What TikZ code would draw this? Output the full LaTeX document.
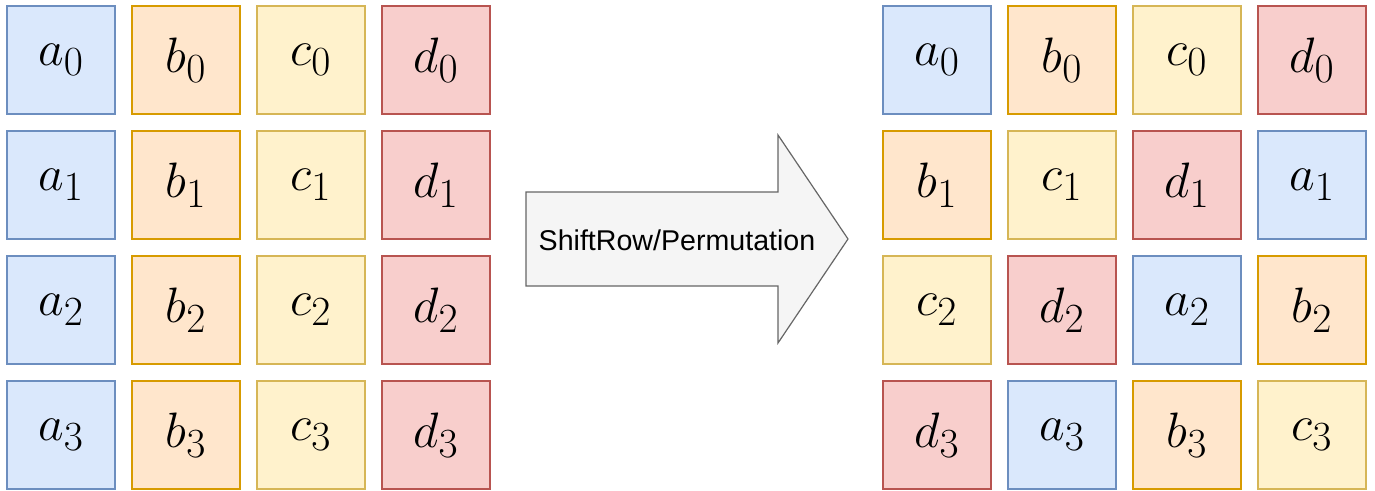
\documentclass[tikz,border=0pt]{standalone}
\usepackage{fontspec}
\newfontfamily\arialfont{Liberation Sans}
\definecolor{blueFill}{HTML}{DAE8FC}
\definecolor{blueLine}{HTML}{6C8EBF}
\definecolor{orangeFill}{HTML}{FFE6CC}
\definecolor{orangeLine}{HTML}{D79B00}
\definecolor{yellowFill}{HTML}{FFF2CC}
\definecolor{yellowLine}{HTML}{D6B656}
\definecolor{redFill}{HTML}{F8CECC}
\definecolor{redLine}{HTML}{B85450}
\definecolor{arrowFill}{HTML}{F5F5F5}
\definecolor{arrowLine}{HTML}{666666}
\begin{document}
\begin{tikzpicture}[x=1pt, y=-1pt,
    cell/.style={draw, line width=1.2pt, minimum size=54pt, inner sep=0pt,
      scale=2, font=\Huge},
    cellA/.style={cell, fill=blueFill, draw=blueLine},
    cellB/.style={cell, fill=orangeFill, draw=orangeLine},
    cellC/.style={cell, fill=yellowFill, draw=yellowLine},
    cellD/.style={cell, fill=redFill, draw=redLine}]
        \useasboundingbox (0,0) rectangle (1375,490);
        % input state
        \node[cellA] (a0) at (61,60) {$a_0$};
        \node[cellB] (b0) at (186,60) {$b_0$};
        \node[cellC] (c0) at (311,60) {$c_0$};
        \node[cellD] (d0) at (436,60) {$d_0$};
        \node[cellA] (a1) at (61,185) {$a_1$};
        \node[cellB] (b1) at (186,185) {$b_1$};
        \node[cellC] (c1) at (311,185) {$c_1$};
        \node[cellD] (d1) at (436,185) {$d_1$};
        \node[cellA] (a2) at (61,310) {$a_2$};
        \node[cellB] (b2) at (186,310) {$b_2$};
        \node[cellC] (c2) at (311,310) {$c_2$};
        \node[cellD] (d2) at (436,310) {$d_2$};
        \node[cellA] (a3) at (61,435) {$a_3$};
        \node[cellB] (b3) at (186,435) {$b_3$};
        \node[cellC] (c3) at (311,435) {$c_3$};
        \node[cellD] (d3) at (436,435) {$d_3$};
        % shifted state
        \node[cellA] (sa0) at (937,60) {$a_0$};
        \node[cellB] (sb0) at (1062,60) {$b_0$};
        \node[cellC] (sc0) at (1187,60) {$c_0$};
        \node[cellD] (sd0) at (1312,60) {$d_0$};
        \node[cellB] (sb1) at (937,185) {$b_1$};
        \node[cellC] (sc1) at (1062,185) {$c_1$};
        \node[cellD] (sd1) at (1187,185) {$d_1$};
        \node[cellA] (sa1) at (1312,185) {$a_1$};
        \node[cellC] (sc2) at (937,310) {$c_2$};
        \node[cellD] (sd2) at (1062,310) {$d_2$};
        \node[cellA] (sa2) at (1187,310) {$a_2$};
        \node[cellB] (sb2) at (1312,310) {$b_2$};
        \node[cellD] (sd3) at (937,435) {$d_3$};
        \node[cellA] (sa3) at (1062,435) {$a_3$};
        \node[cellB] (sb3) at (1187,435) {$b_3$};
        \node[cellC] (sc3) at (1312,435) {$c_3$};
        % arrow
        \draw[line width=1.2pt, draw=arrowLine, fill=arrowFill, line join=miter]
          (526,192) -- (778,192) -- (778,135) -- (848,239) -- (778,343)
          -- (778,286) -- (526,286) -- cycle;
        \node[font=\arialfont\fontsize{28.6}{34}\selectfont] (shift) at (677,240) {ShiftRow/Permutation};
      \end{tikzpicture}
\end{document}
